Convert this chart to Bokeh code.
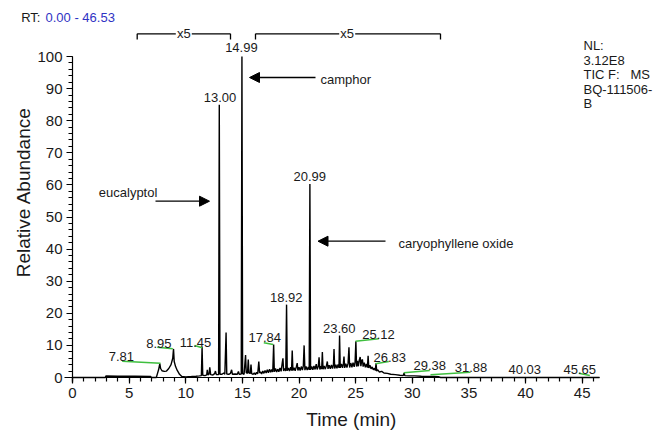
import math
from bokeh.plotting import figure
from bokeh.models import Label, Arrow, NormalHead, SingleIntervalTicker
from bokeh.embed import file_html
from bokeh.resources import INLINE

# ---------------- data ----------------
rt_min = [
    0.00, 2.90, 2.95, 4.00, 5.50, 6.90, 6.95, 7.40, 7.50, 7.60, 7.71, 7.78, 7.90, 8.10, 8.30,
    8.50, 8.70, 8.85, 8.92, 8.98, 9.10, 9.25, 9.45, 9.65, 10.00, 10.50, 10.90, 11.20, 11.38,
    11.44, 11.50, 11.70, 11.85, 11.90, 11.95, 12.05, 12.12, 12.20, 12.40, 12.55, 12.62, 12.70,
    12.90, 12.96, 13.02, 13.20, 13.35, 13.45, 13.56, 13.62, 13.80, 13.95, 14.05, 14.12, 14.35,
    14.55, 14.65, 14.72, 14.90, 14.96, 15.02, 15.15, 15.28, 15.34, 15.45, 15.52, 15.58, 15.70,
    15.76, 15.82, 15.95, 16.05, 16.15, 16.25, 16.35, 16.45, 16.52, 16.60, 16.70, 16.80, 16.90,
    17.00, 17.10, 17.20, 17.30, 17.40, 17.50, 17.60, 17.68, 17.76, 17.82, 17.92, 18.02, 18.12,
    18.22, 18.32, 18.42, 18.52, 18.58, 18.64, 18.74, 18.83, 18.90, 18.96, 19.06, 19.16, 19.26,
    19.34, 19.40, 19.46, 19.56, 19.66, 19.76, 19.84, 19.90, 20.00, 20.10, 20.20, 20.30, 20.38,
    20.45, 20.52, 20.62, 20.72, 20.82, 20.90, 20.96, 21.02, 21.12, 21.22, 21.32, 21.42, 21.52,
    21.60, 21.70, 21.77, 21.84, 21.94, 22.00, 22.06, 22.12, 22.22, 22.32, 22.42, 22.50, 22.56,
    22.66, 22.76, 22.86, 22.96, 23.04, 23.09, 23.15, 23.25, 23.35, 23.45, 23.53, 23.58, 23.64,
    23.74, 23.84, 23.92, 23.97, 24.03, 24.13, 24.23, 24.33, 24.41, 24.47, 24.57, 24.67, 24.77,
    24.87, 24.95, 25.02, 25.08, 25.16, 25.24, 25.32, 25.40, 25.46, 25.54, 25.60, 25.66, 25.76,
    25.86, 25.96, 26.04, 26.10, 26.16, 26.26, 26.36, 26.46, 26.56, 26.66, 26.74, 26.80, 26.86,
    26.96, 27.10, 27.30, 27.50, 27.80, 28.10, 28.50, 28.90, 29.20, 29.28, 29.34, 29.70, 30.20,
    30.80, 31.40, 31.90, 32.30, 32.50, 46.53,
]
rel_abund = [
    0.0, 0.0, 0.45, 0.40, 0.40, 0.35, 0.0, 0.0, 1.2, 2.4, 4.3, 2.8, 2.1, 1.9, 2.0,
    2.8, 4.0, 6.0, 8.9, 5.0, 3.4, 2.2, 1.0, 0.3, 0.2, 0.3, 0.4, 0.5, 0.6,
    9.6, 0.7, 0.6, 0.8, 2.4, 0.8, 1.0, 3.2, 0.9, 0.8, 1.2, 2.0, 0.9,
    0.9, 85.0, 1.0, 1.0, 1.4, 1.0, 14.0, 1.1, 1.0, 1.3, 2.4, 1.0, 1.1,
    1.0, 1.9, 1.0, 1.1, 100.0, 1.2, 1.0, 7.0, 1.5, 1.3, 5.6, 1.4, 1.3,
    4.0, 1.2, 1.0, 1.4, 0.9, 1.6, 1.1, 5.0, 1.4, 1.8, 1.1, 2.0, 1.3,
    2.2, 1.4, 2.4, 1.5, 2.6, 1.6, 2.5, 1.7, 10.3, 1.8, 2.8, 1.7, 2.6,
    1.8, 3.0, 1.9, 4.6, 6.0, 2.0, 2.8, 2.0, 22.7, 2.1, 3.0, 2.0, 3.2,
    2.2, 8.4, 2.2, 3.0, 2.1, 3.3, 4.5, 2.2, 3.2, 2.2, 3.4, 2.3, 3.6,
    10.0, 2.3, 3.4, 2.3, 3.3, 2.4, 60.3, 2.4, 3.4, 2.4, 3.6, 2.5, 4.2,
    2.5, 3.4, 6.3, 2.5, 3.5, 2.6, 7.9, 2.6, 3.6, 2.6, 3.7, 5.0, 2.7,
    3.8, 2.7, 3.9, 2.8, 4.0, 8.9, 2.8, 4.0, 2.9, 4.1, 3.0, 13.1, 3.0,
    4.2, 3.0, 4.4, 6.5, 3.0, 4.3, 3.1, 4.4, 9.4, 3.1, 4.5, 3.2, 4.6,
    3.3, 4.8, 11.3, 3.4, 5.2, 3.5, 5.4, 6.4, 3.5, 5.4, 5.6, 3.4, 4.6,
    3.2, 4.2, 3.1, 6.8, 3.0, 3.8, 2.7, 3.3, 2.4, 2.9, 2.2, 4.4, 2.0,
    2.4, 1.7, 1.9, 1.4, 1.3, 1.0, 0.9, 0.7, 0.6, 1.4, 0.6, 0.5, 0.5,
    0.4, 0.35, 0.3, 0.25, 0.0, 0.0,
]

peak_labels = ["7.81", "8.95", "11.45", "13.00", "14.99", "17.84", "18.92", "20.99",
               "23.60", "25.12", "26.83", "29.38", "31.88", "40.03", "45.65"]
compounds = ["eucalyptol", "camphor", "caryophyllene oxide"]
zoom_factor_labels = ["x5", "x5"]
rt_header = ["RT:", "0.00 - 46.53"]
info_lines = ["NL:", "3.12E8", "TIC F:\u00a0\u00a0 MS", "BQ-111506-", "B"]
x_title = "Time (min)"
y_title = "Relative Abundance"
x_axis_span = [0.0, 46.53]
y_axis_span = [0, 100]

# ---------------- layout (page pixels -> data units) ----------------
W, H = 668, 431
PX0, PX1 = 72.0, 599.0      # page x of t=0 and t=46.53
PY0, PY1 = 377.0, 56.0      # page y of 0 % and 100 %
XS = (PX1 - PX0) / (x_axis_span[1] - x_axis_span[0])
YS = (PY0 - PY1) / (y_axis_span[1] - y_axis_span[0])


def dx(px):
    return (px - PX0) / XS


def dy(py):
    return (PY0 - py) / YS


FONT = "Liberation Sans"
TXT = "#1a1a1a"

p = figure(width=W, height=H, x_range=(dx(0), dx(W)), y_range=(dy(H), dy(0)),
           output_backend="svg", toolbar_location=None, min_border=0)
p.outline_line_color = None
p.grid.visible = False
p.background_fill_color = "white"
p.border_fill_color = "white"

p.xaxis.ticker = SingleIntervalTicker(interval=5, num_minor_ticks=5)
p.yaxis.ticker = SingleIntervalTicker(interval=10, num_minor_ticks=5)
p.xaxis.fixed_location = 0
p.yaxis.fixed_location = 0
p.xaxis.bounds = (dx(64), x_axis_span[1])
p.yaxis.bounds = (dy(382), y_axis_span[1])
for ax in (p.xaxis[0], p.yaxis[0]):
    ax.axis_line_color = "black"
    ax.axis_line_width = 1.2
    ax.major_tick_line_color = "black"
    ax.minor_tick_line_color = "black"
    ax.major_tick_line_width = 1.2
    ax.minor_tick_line_width = 1.2
    ax.major_tick_in = 0
    ax.minor_tick_in = 0
    ax.major_tick_out = 6
    ax.minor_tick_out = 4
    ax.major_label_text_font = FONT
    ax.major_label_text_font_size = "15px"
    ax.major_label_text_color = TXT
    ax.major_label_standoff = 4

# chromatogram trace
p.line(rt_min, rel_abund, line_color="black", line_width=1.4)

# green leader lines (page pixel positions measured on reference)
leaders = [
    ((121.7, 360.7), (160.0, 362.7)),
    ((156.7, 346.7), (172.3, 348.3)),
    ((194.0, 345.0), (201.7, 347.3)),
    ((263.3, 342.3), (272.7, 344.0)),
    ((355.0, 340.7), (378.3, 338.3)),
    ((375.0, 363.3), (388.3, 361.0)),
    ((403.3, 372.3), (429.3, 370.0)),
    ((430.0, 374.3), (470.0, 371.7)),
    ((578.3, 372.7), (589.3, 375.0)),
]
p.segment(x0=[dx(a[0]) for a, b in leaders], y0=[dy(a[1]) for a, b in leaders],
          x1=[dx(b[0]) for a, b in leaders], y1=[dy(b[1]) for a, b in leaders],
          line_color="#3fbf3f", line_width=1.6)


def lab(px, py, text, size="13px", align="center", color=TXT, angle=0.0):
    p.add_layout(Label(x=dx(px), y=dy(py), text=text, text_font=FONT, text_font_size=size,
                       text_align=align, text_baseline="middle", text_color=color, angle=angle))


# peak labels (page pixel centres)
label_pos = [(120.9, 356.0), (158.3, 342.7), (195.0, 341.7), (219.5, 96.7), (240.9, 47.3),
             (264.3, 337.3), (285.7, 296.7), (309.2, 175.7), (338.7, 328.3), (378.0, 334.0),
             (389.2, 356.7), (429.2, 365.0), (470.5, 367.3), (524.2, 369.3), (579.2, 369.3)]
for t, (px, py) in zip(peak_labels, label_pos):
    lab(px, py, t)

# compound annotations with arrows
lab(98.3, 192.3, compounds[0], align="left")
lab(320.0, 79.0, compounds[1], align="left")
lab(398.0, 243.0, compounds[2], align="left")


def arrow(x0, y0, x1, y1, head=True):
    p.add_layout(Arrow(x_start=dx(x0), y_start=dy(y0), x_end=dx(x1), y_end=dy(y1),
                       line_color="black", line_width=1.3,
                       end=NormalHead(size=10, fill_color="black", line_color="black") if head else None))


arrow(155.0, 200.7, 209.0, 200.7)
arrow(315.0, 77.0, 249.0, 77.0)
arrow(385.0, 240.7, 317.5, 240.7)

# "x5" brackets above the plot
for (xa, xb, xc) in [(136.7, 230.0, 183.3), (255.0, 440.0, 346.7)]:
    arrow(xa, 33.3, xc - 8, 33.3, head=False)
    arrow(xc + 8, 33.3, xb, 33.3, head=False)
    arrow(xa, 33.3, xa, 39.0, head=False)
    arrow(xb, 33.3, xb, 39.0, head=False)
lab(183.3, 33.0, zoom_factor_labels[0])
lab(346.7, 33.0, zoom_factor_labels[1])

# header texts
lab(20.7, 17.3, rt_header[0], align="left")
lab(45.0, 17.3, rt_header[1], align="left", color="#2f33c4")
for i, s in enumerate(info_lines):
    lab(583.0, 45.0 + i * 14.5, s, align="left")

# axis titles
lab(350.8, 419.0, x_title, size="19px")
lab(22.7, 191.7, y_title, size="19px", angle=math.pi / 2)

open("out.html", "w").write(file_html(p, INLINE))
